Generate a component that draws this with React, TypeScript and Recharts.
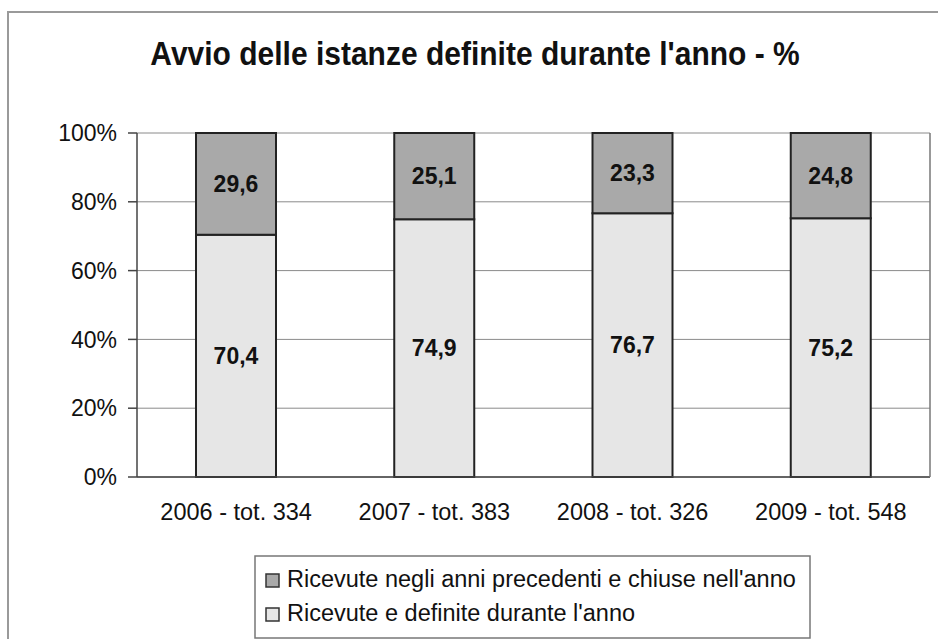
import React from 'react';
import { BarChart, Bar, XAxis, YAxis, CartesianGrid, LabelList } from 'recharts';

const categories = ['2006 - tot. 334', '2007 - tot. 383', '2008 - tot. 326', '2009 - tot. 548'];
const definiteNellAnno = [70.4, 74.9, 76.7, 75.2];
const anniPrecedenti = [29.6, 25.1, 23.3, 24.8];
const yTicks = [0, 20, 40, 60, 80, 100];
const boundaryTicks = [0, 1, 2, 3, 4];

const title = "Avvio delle istanze definite durante l'anno - %";
const seriesNames = {
  prec: "Ricevute negli anni precedenti e chiuse nell'anno",
  def: "Ricevute e definite durante l'anno",
};

const COLOR_DARK = '#a9a9a9';
const COLOR_LIGHT = '#e6e6e6';
const FONT = '"Liberation Sans", Arial, sans-serif';

const data = categories.map((c, i) => ({
  name: c,
  def: definiteNellAnno[i],
  prec: anniPrecedenti[i],
}));

const fmt = (v: any) => Number(v).toFixed(1).replace('.', ',');

const legendItems = [
  { key: 'prec', label: seriesNames.prec, color: COLOR_DARK },
  { key: 'def', label: seriesNames.def, color: COLOR_LIGHT },
];

export default function App() {
  return (
    <div style={{ position: 'absolute', left: 0, top: 0, width: 938, height: 639, background: '#fff', overflow: 'hidden', fontFamily: FONT }}>
      <div style={{ position: 'absolute', left: 7, top: 11, width: 960, height: 660, border: '2px solid #9a9a9a', boxSizing: 'border-box' }} />
      <BarChart
        width={938}
        height={639}
        data={data}
        margin={{ top: 133, right: 7, left: 0, bottom: 160 }}
        style={{ position: 'absolute', left: 0, top: 0 }}
      >
        <CartesianGrid vertical={false} stroke="#8a8a8a" strokeWidth={1} />
        <XAxis
          xAxisId="b"
          type="number"
          domain={[0, 4]}
          ticks={boundaryTicks}
          height={1}
          tick={false}
          tickSize={8}
          axisLine={{ stroke: '#444', strokeWidth: 1.5 }}
          tickLine={{ stroke: '#444', strokeWidth: 1.5 }}
          allowDataOverflow
        />
        <XAxis
          xAxisId="cat"
          dataKey="name"
          height={1}
          tickLine={false}
          tickSize={0}
          tickMargin={25}
          axisLine={false}
          tick={{ fill: '#111', fontSize: 23.5, fontFamily: FONT }}
          interval={0}
        />
        <YAxis
          domain={[0, 100]}
          ticks={yTicks}
          width={137}
          tickSize={9}
          tickMargin={11}
          tickFormatter={(v: any) => `${v}%`}
          axisLine={{ stroke: '#444', strokeWidth: 1.5 }}
          tickLine={{ stroke: '#444', strokeWidth: 1.5 }}
          tick={{ fill: '#111', fontSize: 23, fontFamily: FONT }}
        />
        <YAxis
          yAxisId="r"
          orientation="right"
          domain={[0, 100]}
          width={1}
          tick={false}
          tickLine={false}
          axisLine={{ stroke: '#777', strokeWidth: 1.5 }}
        />
        <Bar dataKey="def" xAxisId="cat" stackId="a" fill={COLOR_LIGHT} stroke="#222" strokeWidth={2} barSize={80} isAnimationActive={false}>
          <LabelList dataKey="def" position="center" formatter={fmt} style={{ fontSize: 23, fontWeight: 'bold', fill: '#111', fontFamily: FONT }} />
        </Bar>
        <Bar dataKey="prec" xAxisId="cat" stackId="a" fill={COLOR_DARK} stroke="#222" strokeWidth={2} barSize={80} isAnimationActive={false}>
          <LabelList dataKey="prec" position="center" formatter={fmt} style={{ fontSize: 23, fontWeight: 'bold', fill: '#111', fontFamily: FONT }} />
        </Bar>
      </BarChart>
      <svg width={938} height={639} style={{ position: 'absolute', left: 0, top: 0, pointerEvents: 'none' }}>
        <text
          transform="translate(475,65) scale(1,1.12)"
          textAnchor="middle"
          fontFamily={FONT}
          fontWeight="bold"
          fontSize={30}
          fill="#111"
        >
          {title}
        </text>
        <rect x={255} y={556} width={555} height={82} fill="#fff" stroke="#777" strokeWidth={1.5} />
        {legendItems.map((it, i) => (
          <g key={it.key}>
            <rect x={266} y={574 + i * 34} width={13} height={13} fill={it.color} stroke="#333" strokeWidth={1.5} />
            <text x={287} y={587 + i * 34} fontFamily={FONT} fontSize={23.5} fill="#111">
              {it.label}
            </text>
          </g>
        ))}
      </svg>
    </div>
  );
}
